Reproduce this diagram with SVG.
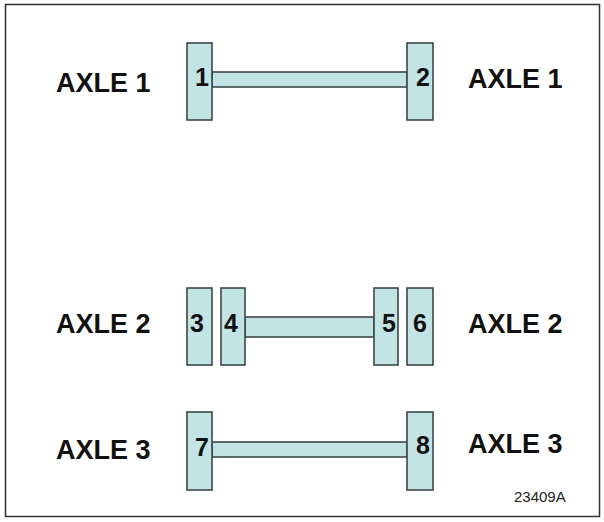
<svg xmlns="http://www.w3.org/2000/svg" width="604" height="522" viewBox="0 0 604 522">
<style>
.box{fill:#c2e4e4;stroke:#3c4646;stroke-width:1.6}
.bar{fill:#c2e4e4;stroke:#3c4646;stroke-width:1.6}
.num{font-family:"Liberation Sans",Arial,sans-serif;font-weight:bold;font-size:25px;fill:#111;text-anchor:middle}
.lbl{font-family:"Liberation Sans",Arial,sans-serif;font-weight:bold;font-size:27px;fill:#111}
.ref{font-family:"Liberation Sans",Arial,sans-serif;font-size:15px;fill:#222}
</style>
<rect x="0" y="0" width="604" height="522" fill="#fff"/>
<rect x="5.5" y="4.5" width="594" height="512" fill="none" stroke="#333" stroke-width="1.5"/>
<g id="connectors">
<rect class="bar" x="212" y="72" width="195" height="15"/>
<rect class="bar" x="245" y="317" width="129" height="20"/>
<rect class="bar" x="212" y="442" width="195" height="15"/>
</g>
<g id="n1"><rect class="box" x="187" y="43" width="25" height="77"/><text class="num" x="202" y="86">1</text></g>
<g id="n2"><rect class="box" x="407" y="43" width="26" height="77"/><text class="num" x="423" y="86">2</text></g>
<g id="n3"><rect class="box" x="187" y="288" width="25" height="77"/><text class="num" x="197" y="332">3</text></g>
<g id="n4"><rect class="box" x="221" y="288" width="24" height="77"/><text class="num" x="231" y="332">4</text></g>
<g id="n5"><rect class="box" x="374" y="288" width="24" height="77"/><text class="num" x="389" y="332">5</text></g>
<g id="n6"><rect class="box" x="407" y="288" width="26" height="77"/><text class="num" x="420" y="332">6</text></g>
<g id="n7"><rect class="box" x="187" y="412" width="25" height="78"/><text class="num" x="202" y="456">7</text></g>
<g id="n8"><rect class="box" x="407" y="412" width="26" height="78"/><text class="num" x="423" y="454">8</text></g>
<g id="labels">
<text class="lbl" x="56" y="92">AXLE 1</text>
<text class="lbl" x="468" y="88">AXLE 1</text>
<text class="lbl" x="56" y="333">AXLE 2</text>
<text class="lbl" x="468" y="333">AXLE 2</text>
<text class="lbl" x="56" y="459">AXLE 3</text>
<text class="lbl" x="468" y="453">AXLE 3</text>
<text class="ref" x="514" y="502">23409A</text>
</g>
</svg>
